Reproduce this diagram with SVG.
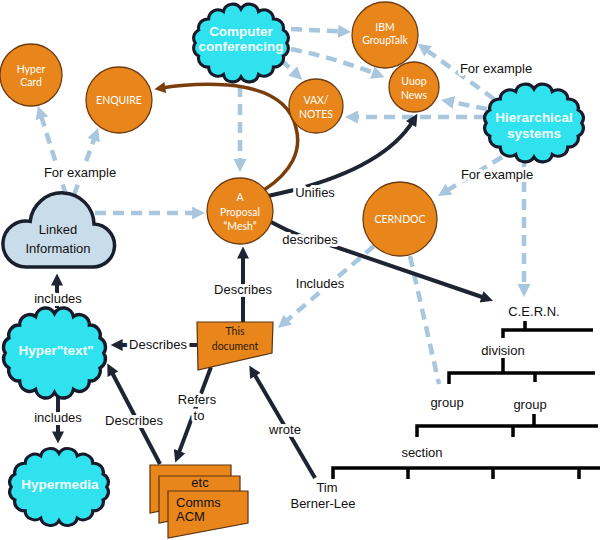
<svg xmlns="http://www.w3.org/2000/svg" xmlns:xlink="http://www.w3.org/1999/xlink" width="600" height="540" viewBox="0 0 600 540">
<style>
.d{fill:none;stroke:#a8c6de;stroke-width:4.5;stroke-dasharray:11 7;}
.s{fill:none;stroke:#1f2433;stroke-width:4;}
.b{fill:none;stroke:#7a3e0c;stroke-width:3.5;}
.lbl{font-family:"Liberation Sans",Arial,sans-serif;font-size:13px;fill:#111;text-anchor:middle;stroke:#fff;stroke-width:6;paint-order:stroke;stroke-linejoin:round;}
.orb{fill:#e8861c;stroke:#6e3b12;stroke-width:1.3;}
.ot{font-family:Lato,"Open Sans",sans-serif;font-size:10.5px;fill:#fff;text-anchor:middle;}
.cy{fill:#30e2ee;stroke:#151b2b;stroke-width:3;}
.ct{font-family:"Liberation Sans",Arial,sans-serif;font-size:13.5px;font-weight:bold;fill:#f2ffff;text-anchor:middle;}
.doc{fill:#e8861c;stroke:#5a3210;stroke-width:1.2;}
.tr{stroke:#000;stroke-width:3.5;fill:none;}
.tt{font-family:"Liberation Sans",Arial,sans-serif;font-size:13px;fill:#111;text-anchor:middle;}
</style>
<defs>
<marker id="ad" viewBox="0 0 10 10" refX="3" refY="5" markerWidth="13" markerHeight="12" markerUnits="userSpaceOnUse" orient="auto"><path d="M0,0 L10,5 L0,10 z" fill="#1f2433"/></marker>
<marker id="al" viewBox="0 0 10 10" refX="3" refY="5" markerWidth="13" markerHeight="13" markerUnits="userSpaceOnUse" orient="auto"><path d="M0,0 L10,5 L0,10 z" fill="#a8c6de"/></marker>
<marker id="ab" viewBox="0 0 10 10" refX="3" refY="5" markerWidth="12" markerHeight="11" markerUnits="userSpaceOnUse" orient="auto"><path d="M0,0 L10,5 L0,10 z" fill="#7a3e0c"/></marker>
<path id="bubble" d="M0,-34 A9,9 0 0 1 16.84,-31.41 A9,9 0 0 1 31.11,-24.04 A9,9 0 0 1 40.65,-13.01 A9,9 0 0 1 44,0 A9,9 0 0 1 40.65,13.01 A9,9 0 0 1 31.11,24.04 A9,9 0 0 1 16.84,31.41 A9,9 0 0 1 0,34 A9,9 0 0 1 -16.84,31.41 A9,9 0 0 1 -31.11,24.04 A9,9 0 0 1 -40.65,13.01 A9,9 0 0 1 -44,0 A9,9 0 0 1 -40.65,-13.01 A9,9 0 0 1 -31.11,-24.04 A9,9 0 0 1 -16.84,-31.41 A9,9 0 0 1 0,-34 Z"/>
</defs>
<rect width="600" height="540" fill="#fff"/>

<g id="connectors">
<path class="d" d="M291,29 L342,31.5" marker-end="url(#al)"/>
<path class="d" d="M291,49 Q335,58 376,74" marker-end="url(#al)"/>
<path class="d" d="M281,60 L295.6,73.6" marker-end="url(#al)"/>
<path class="d" d="M240,86 L240,163" marker-end="url(#al)"/>
<path class="d" d="M494,99 L425,49" marker-end="url(#al)"/>
<path class="d" d="M487,109 L450,101.7" marker-end="url(#al)"/>
<path class="d" d="M485,117 L354,117" marker-end="url(#al)"/>
<path class="d" d="M502,157 L445.7,191.3" marker-end="url(#al)"/>
<path class="d" d="M524,163 L524,288" marker-end="url(#al)"/>
<path class="d" d="M66,195 L40.7,114.6" marker-end="url(#al)"/>
<path class="d" d="M74,195 L95,136.5" marker-end="url(#al)"/>
<path class="d" d="M95,213 L196,213" marker-end="url(#al)"/>
<path class="d" d="M374,246 L284.8,322.2" marker-end="url(#al)"/>
<path class="d" d="M410,256 L439,384"/>
<path class="s" d="M268,196 L294,190 C340,178 390,158 413,121" stroke-width="4.5" marker-end="url(#ad)"/>
<path class="s" d="M271,222 Q300,238 333,246 L485,298" marker-end="url(#ad)"/>
<path class="b" d="M264,190 C292,172 302,150 296,128 C290,100 262,88 228,85 C200,83 180,85 162,88" marker-end="url(#ab)"/>
<path class="s" d="M243,322 L243,255" marker-end="url(#ad)"/>
<path class="s" d="M197,345 L119,345" marker-end="url(#ad)"/>
<path class="s" d="M57,308 L57,282" marker-end="url(#ad)"/>
<path class="s" d="M58,391 L58,435" marker-end="url(#ad)"/>
<path class="s" d="M160,464 L111.2,371" marker-end="url(#ad)"/>
<path class="s" d="M211,367 L178.2,454.6" marker-end="url(#ad)"/>
<path class="s" d="M315,478 L253.5,372.8" marker-end="url(#ad)"/>
</g>

<g id="connector-labels">
<text class="lbl" x="80" y="176.5">For example</text>
<text class="lbl" x="496" y="72.5">For example</text>
<text class="lbl" x="497" y="178.5">For example</text>
<text class="lbl" x="315" y="196.5">Unifies</text>
<text class="lbl" x="310" y="243.5">describes</text>
<text class="lbl" x="320" y="287.5">Includes</text>
<text class="lbl" x="243" y="293.5">Describes</text>
<text class="lbl" x="158" y="348.5">Describes</text>
<text class="lbl" x="58" y="302.5">includes</text>
<text class="lbl" x="58" y="421.5">includes</text>
<text class="lbl" x="134" y="424.5">Describes</text>
<text class="lbl" x="197" y="403.5">Refers</text>
<text class="lbl" x="199" y="419.5">to</text>
<text class="lbl" x="285" y="433.5">wrote</text>
</g>

<g id="hypercard"><circle class="orb" cx="31" cy="75" r="31"/><text class="ot" x="31" y="72.5">Hyper</text><text class="ot" x="31" y="85.5">Card</text></g>
<g id="enquire"><circle class="orb" cx="119" cy="100" r="33"/><text class="ot" x="119" y="104" font-size="11">ENQUIRE</text></g>
<g id="ibm"><circle class="orb" cx="385" cy="35" r="33"/><text class="ot" x="385" y="30.5">IBM</text><text class="ot" x="385" y="43.5">GroupTalk</text></g>
<g id="uuop"><circle class="orb" cx="414" cy="87" r="25"/><text class="ot" x="414" y="84.5">Uuop</text><text class="ot" x="414" y="98.5">News</text></g>
<g id="vax"><circle class="orb" cx="316" cy="106" r="27"/><text class="ot" x="316" y="104">VAX/</text><text class="ot" x="316" y="118">NOTES</text></g>
<g id="proposal"><circle class="orb" cx="240" cy="211" r="33"/><text class="ot" x="240" y="201" font-size="11.5">A</text><text class="ot" x="240" y="216" font-size="11.5">Proposal</text><text class="ot" x="240" y="230" font-size="11.5">“Mesh”</text></g>
<g id="cerndoc"><circle class="orb" cx="400" cy="219" r="37"/><text class="ot" x="400" y="222.5" font-size="10">CERNDOC</text></g>

<g id="computer-conferencing"><use xlink:href="#bubble" class="cy" transform="translate(241,43) scale(1.04,1)"/><text class="ct" x="241" y="36">Computer</text><text class="ct" x="241" y="51">conferencing</text></g>
<g id="hierarchical"><use xlink:href="#bubble" class="cy" transform="translate(534,123) scale(1.085,1)"/><text class="ct" x="534" y="122">Hierarchical</text><text class="ct" x="534" y="137.5">systems</text></g>
<g id="hypertext"><use xlink:href="#bubble" class="cy" transform="translate(54.5,353) scale(1.12,1.16)"/><text class="ct" x="56" y="354.5" font-size="13">Hyper"text"</text></g>
<g id="hypermedia"><use xlink:href="#bubble" class="cy" transform="translate(59,487) scale(1.085,0.99)"/><text class="ct" x="60" y="488.5" font-size="13">Hypermedia</text></g>
<g id="linked-information"><path d="M26,267 A23,23 0 1 1 30.2,221.4 A32,32 0 0 1 94,224 A21,21 0 1 1 92,267 Z" fill="#c9dcea" stroke="#1a1f2e" stroke-width="3.5"/><text class="tt" x="58" y="234" font-size="14.5">Linked</text><text class="tt" x="58" y="253" font-size="14.5">Information</text></g>

<g id="this-document"><polygon class="doc" points="197,322 273,322 272,353 198,370"/><text class="ot" x="235" y="335" font-size="11.5" fill="#2a1a08" style="fill:#2a1a08">This</text><text class="ot" x="235" y="350" font-size="11.5" style="fill:#2a1a08">document</text></g>
<g id="comms-acm"><polygon class="doc" points="150,465 231,465 231,497 150,513"/><polygon class="doc" points="159,476 240,476 240,508 159,523"/><polygon class="doc" points="168,491 248,491 248,523 168,538"/><text class="tt" x="200" y="487" font-size="10">etc</text><text class="tt" x="176" y="507" font-size="12" text-anchor="start" style="text-anchor:start">Comms</text><text class="tt" x="176" y="521" font-size="12" style="text-anchor:start">ACM</text></g>
<g id="tim"><text class="tt" x="327" y="491.5">Tim</text><text class="tt" x="323" y="507.5">Berner-Lee</text></g>

<g id="cern-tree">
<path class="tr" d="M525,321 V330 M503,338 V330 H593 M503,358 V373 M449,384 V373 H595 M535,373 V382 M534,414 V426 M417,437 V426 H598 M513,426 V437 M333,479 V468 H600 M408,468 V479 M493,468 V479 M579,468 V479"/>
<text class="tt" x="534" y="315.5">C.E.R.N.</text>
<text class="tt" x="503" y="354.5">division</text>
<text class="tt" x="447" y="406.5">group</text>
<text class="tt" x="530" y="408.5">group</text>
<text class="tt" x="422" y="456.5">section</text>
</g>
</svg>
